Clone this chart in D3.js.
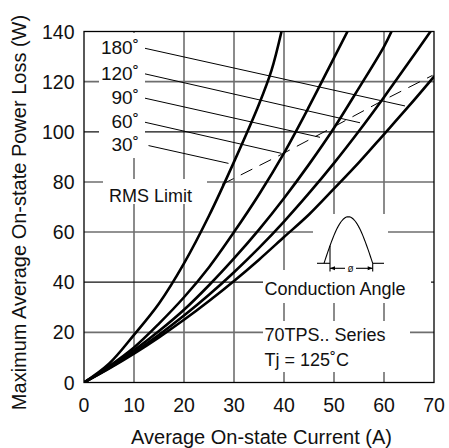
<!DOCTYPE html>
<html><head><meta charset="utf-8">
<script src="https://cdn.jsdelivr.net/npm/d3@7"></script>
<style>html,body{margin:0;padding:0;background:#fff}svg{display:block}</style>
</head><body>
<svg id="chart" width="449" height="448"></svg>
<script>
// ---- data ----
const xTicks = [0,10,20,30,40,50,60,70];
const yTicks = [0,20,40,60,80,100,120,140];
const darkGridW = [40,100];

const current180 = [0,5,10,15,20,25,30,35,40,45,50,55,60,65,70];
const loss180    = [0,5.5,11.5,18,25,32.5,40.5,49,58,67,77.3,87.8,99,110.3,122];
const current120 = [0,5,10,15,20,25,30,35,40,45,50,55,60,65,69.3];
const loss120    = [0,5.7,12,19,26.7,35,44,53.7,64.2,75.5,87.5,100.3,113.8,127.8,140];
const current90  = [0,5,10,15,20,25,30,35,40,45,50,55,60,61.5];
const loss90     = [0,6,12.8,20.5,29,38.8,49.5,61,73.5,87,101.5,117.5,134,140];
const current60  = [0,5,10,15,20,25,30,35,40,45,50,52.7];
const loss60     = [0,6.5,14,23.5,34,46,60,75,91.5,110,129.5,140];
const current30  = [0,5,10,15,20,25,30,35,37.5,39.5];
const loss30     = [0,7.5,19,31.5,47.5,66.5,88,111,124.5,140];

const rmsCurrent = [27.6,39.5,49.5,59.3,69.7];
const rmsLoss    = [79,91,101.5,112,122.5];

const angleLabels  = ["180˚","120˚","90˚","60˚","30˚"];
const leaderStartI = [12.2,12.2,12.2,12.2,12.9];
const leaderStartW = [133.3,123.1,113.4,103.8,94.5];
const leaderEndI   = [64.2,55.2,47.2,39.5,28.9];
const leaderEndW   = [110.3,103.6,97.8,91.4,87.4];

// ---- drawing ----
const svg = d3.select("#chart");
const FONT = "'Liberation Sans', Arial, Helvetica, sans-serif";
const x = d3.scaleLinear().domain([0,70]).range([84,434]);
const y = d3.scaleLinear().domain([0,140]).range([382.5,31.5]);

svg.append("rect").attr("width",449).attr("height",448).attr("fill","#fff");

// grid
const g = svg.append("g");
g.selectAll(".vg").data(xTicks.slice(1,-1)).join("line")
  .attr("x1",d=>x(d)).attr("x2",d=>x(d)).attr("y1",y(0)).attr("y2",y(140))
  .attr("stroke","#6e6e6e").attr("stroke-width",1.6);
g.selectAll(".hg").data(yTicks.slice(1,-1)).join("line")
  .attr("x1",x(0)).attr("x2",x(70)).attr("y1",d=>y(d)).attr("y2",d=>y(d))
  .attr("stroke",d=>darkGridW.includes(d)?"#111":"#6e6e6e")
  .attr("stroke-width",d=>darkGridW.includes(d)?1.2:1.6);

// white masks behind annotations
const masks = [
  [99,33,46,125],     // angle labels
  [103,179,104,25],   // RMS Limit
  [313,214,75,56],    // waveform
  [263,270,168,33],   // Conduction Angle
  [263,321,147,51]    // series / Tj
];
svg.selectAll(".mask").data(masks).join("rect")
  .attr("x",d=>d[0]).attr("y",d=>d[1]).attr("width",d=>d[2]).attr("height",d=>d[3])
  .attr("fill","#fff");

// curves
const series = [
  [current180,loss180],[current120,loss120],[current90,loss90],[current60,loss60],[current30,loss30]
];
const line = d3.line().x(d=>x(d[0])).y(d=>y(d[1])).curve(d3.curveCatmullRom.alpha(0.5));
svg.append("defs").append("clipPath").attr("id","clip").append("rect")
  .attr("x",x(0)).attr("y",y(140)).attr("width",x(70)-x(0)).attr("height",y(0)-y(140));
const cg = svg.append("g").attr("clip-path","url(#clip)");
series.forEach(([cs,ls])=>{
  cg.append("path").datum(cs.map((c,i)=>[c,ls[i]]))
    .attr("d",line).attr("fill","none").attr("stroke","#000")
    .attr("stroke-width",2.6).attr("stroke-linejoin","round").attr("stroke-linecap","round");
});

// RMS limit dashed
cg.append("path").datum(rmsCurrent.map((c,i)=>[c,rmsLoss[i]]))
  .attr("d",d3.line().x(d=>x(d[0])).y(d=>y(d[1])))
  .attr("fill","none").attr("stroke","#000").attr("stroke-width",1)
  .attr("stroke-dasharray","13,8");

// leader lines
svg.selectAll(".leader").data(angleLabels).join("line")
  .attr("x1",(d,i)=>x(leaderStartI[i])).attr("y1",(d,i)=>y(leaderStartW[i]))
  .attr("x2",(d,i)=>x(leaderEndI[i])).attr("y2",(d,i)=>y(leaderEndW[i]))
  .attr("stroke","#000").attr("stroke-width",1);

svg.selectAll(".alab").data(angleLabels).join("text")
  .attr("x",139).attr("y",(d,i)=>y(leaderStartW[i])+5.8)
  .attr("text-anchor","end").attr("font-family",FONT).attr("font-size",19)
  .attr("fill","#111").text(d=>d);

function label(t,xx,yy,size){
  svg.append("text").attr("x",xx).attr("y",yy).attr("font-family",FONT)
    .attr("font-size",size).attr("fill","#111").text(t);
}
label("RMS Limit",109,201.5,18);
label("Conduction Angle",264.5,295,18);
label("70TPS.. Series",264.5,341,18);
label("Tj = 125˚C",264.5,366,18);

// waveform icon
const wv = svg.append("g").attr("stroke","#000").attr("fill","none").attr("stroke-width",1.1);
const bx0 = 324, bx1 = 372.7, by = 263.3, amp = 46.6;
const pts = d3.range(0,41).map(k=>[bx0+(bx1-bx0)*k/40, by-amp*Math.sin(Math.PI*k/40)]);
wv.append("path").attr("d",d3.line()(pts));
wv.append("line").attr("x1",317).attr("x2",330).attr("y1",by).attr("y2",by);
wv.append("line").attr("x1",372.7).attr("x2",384).attr("y1",by).attr("y2",by);
const fx = 330, fy = by-amp*Math.sin(Math.PI*(fx-bx0)/(bx1-bx0));
wv.append("line").attr("x1",fx).attr("x2",fx).attr("y1",fy).attr("y2",271.5);
wv.append("line").attr("x1",bx1).attr("x2",bx1).attr("y1",by).attr("y2",271.5);
const ay = 268.3;
wv.append("line").attr("x1",fx).attr("x2",345).attr("y1",ay).attr("y2",ay);
wv.append("line").attr("x1",356).attr("x2",bx1).attr("y1",ay).attr("y2",ay);
svg.append("path").attr("d",`M${fx},${ay} l5,-2 l0,4 z M${bx1},${ay} l-5,-2 l0,4 z`).attr("fill","#000");
svg.append("text").attr("x",350.5).attr("y",271.5).attr("text-anchor","middle")
  .attr("font-family",FONT).attr("font-size",10).attr("fill","#111").text("ø");

// border
svg.append("rect").attr("x",x(0)).attr("y",y(140)).attr("width",x(70)-x(0)).attr("height",y(0)-y(140))
  .attr("fill","none").attr("stroke","#000").attr("stroke-width",1.3);

// tick labels
svg.selectAll(".xt").data(xTicks).join("text")
  .attr("x",d=>x(d)).attr("y",411.5).attr("text-anchor","middle")
  .attr("font-family",FONT).attr("font-size",19.5).attr("fill","#111").text(d=>d);
svg.selectAll(".yt").data(yTicks).join("text")
  .attr("x",74.5).attr("y",d=>y(d)+7).attr("text-anchor","end")
  .attr("font-family",FONT).attr("font-size",19.5).attr("fill","#111").text(d=>d);

// axis titles
svg.append("text").attr("x",261.5).attr("y",443.5).attr("text-anchor","middle")
  .attr("font-family",FONT).attr("font-size",20).attr("fill","#111")
  .text("Average On-state Current (A)");
svg.append("text").attr("transform","translate(25.5,212.5) rotate(-90)").attr("text-anchor","middle")
  .attr("font-family",FONT).attr("font-size",20).attr("fill","#111")
  .text("Maximum Average On-state Power Loss (W)");
</script>
</body></html>
